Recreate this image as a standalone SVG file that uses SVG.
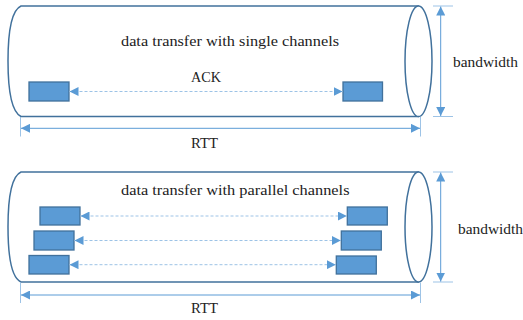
<svg xmlns="http://www.w3.org/2000/svg" width="523" height="320" viewBox="0 0 523 320">
<defs>
<style>
.cyl{fill:#fff;stroke:#41719C;stroke-width:1.5}
.box{fill:#5B9BD5;stroke:#41719C;stroke-width:1.3}
.dim{stroke:#5B9BD5;stroke-width:1;fill:none}
.ext{stroke:#9DC3E6;stroke-width:1;fill:none}
.dash{stroke:#9DC3E6;stroke-width:1;stroke-dasharray:3 2;fill:none}
</style>
<marker id="ah" viewBox="0 0 10 10" refX="10" refY="5" markerWidth="9" markerHeight="9" markerUnits="userSpaceOnUse" orient="auto-start-reverse">
<path d="M0,0 L10,5 L0,10 z" fill="#5B9BD5"/>
</marker>
</defs>
<rect width="523" height="320" fill="#fff"/>

<g id="cylinder-top">
<path class="cyl" d="M419,6 L21,6 C12,10 8,30 8,61 C8,92 12,112 21,116.5 L419,116.5"/>
<ellipse class="cyl" cx="418.5" cy="61.2" rx="13.5" ry="55.3"/>
</g>
<g id="cylinder-bottom">
<path class="cyl" d="M419,172 L21,172 C12,176 8,196 8,227 C8,258 12,278 21,282 L419,282"/>
<ellipse class="cyl" cx="418.5" cy="227" rx="13.5" ry="55"/>
</g>

<g id="box-top-left"><rect class="box" x="29" y="82" width="40" height="19"/></g>
<g id="box-top-right"><rect class="box" x="343" y="82" width="39.5" height="19"/></g>
<g id="box-bot-left-1"><rect class="box" x="40" y="207" width="40" height="18"/></g>
<g id="box-bot-left-2"><rect class="box" x="34" y="231" width="40" height="19"/></g>
<g id="box-bot-left-3"><rect class="box" x="29" y="255.5" width="40" height="18.5"/></g>
<g id="box-bot-right-1"><rect class="box" x="347.3" y="207" width="40" height="18"/></g>
<g id="box-bot-right-2"><rect class="box" x="341.3" y="231" width="40" height="19"/></g>
<g id="box-bot-right-3"><rect class="box" x="336.3" y="256" width="40" height="18"/></g>

<g id="connectors">
<line class="dash" x1="69.5" y1="91.5" x2="342.5" y2="91.5" marker-start="url(#ah)" marker-end="url(#ah)"/>
<line class="dash" x1="80.5" y1="216" x2="346.8" y2="216" marker-start="url(#ah)" marker-end="url(#ah)"/>
<line class="dash" x1="74.5" y1="240.5" x2="340.8" y2="240.5" marker-start="url(#ah)" marker-end="url(#ah)"/>
<line class="dash" x1="69.5" y1="264.7" x2="335.8" y2="264.7" marker-start="url(#ah)" marker-end="url(#ah)"/>

<line class="ext" x1="433" y1="6" x2="453" y2="6"/>
<line class="ext" x1="433" y1="116.5" x2="453" y2="116.5"/>
<line class="dim" x1="440.7" y1="6.5" x2="440.7" y2="116" marker-start="url(#ah)" marker-end="url(#ah)"/>
<line class="ext" x1="20.5" y1="117" x2="20.5" y2="136.5"/>
<line class="ext" x1="420.5" y1="117" x2="420.5" y2="136.5"/>
<line class="dim" x1="21" y1="128.3" x2="420" y2="128.3" marker-start="url(#ah)" marker-end="url(#ah)"/>

<line class="ext" x1="433" y1="172" x2="453" y2="172"/>
<line class="ext" x1="433" y1="282" x2="453" y2="282"/>
<line class="dim" x1="440.7" y1="172.5" x2="440.7" y2="281.5" marker-start="url(#ah)" marker-end="url(#ah)"/>
<line class="ext" x1="20.5" y1="282.5" x2="20.5" y2="303"/>
<line class="ext" x1="420.5" y1="282.5" x2="420.5" y2="303"/>
<line class="dim" x1="21" y1="295" x2="420" y2="295" marker-start="url(#ah)" marker-end="url(#ah)"/>
</g>

<g id="labels" font-family="Liberation Serif, serif" font-size="15" fill="#222">
<text x="121" y="45.5" textLength="218" lengthAdjust="spacingAndGlyphs">data transfer with single channels</text>
<text x="191" y="82" textLength="30" lengthAdjust="spacingAndGlyphs">ACK</text>
<text x="453" y="67" textLength="65" lengthAdjust="spacingAndGlyphs">bandwidth</text>
<text x="191" y="148.3" textLength="27" lengthAdjust="spacingAndGlyphs">RTT</text>
<text x="121" y="195" textLength="228.5" lengthAdjust="spacingAndGlyphs">data transfer with parallel channels</text>
<text x="458" y="234" textLength="65" lengthAdjust="spacingAndGlyphs">bandwidth</text>
<text x="191" y="313.3" textLength="27" lengthAdjust="spacingAndGlyphs">RTT</text>
</g>
</svg>
